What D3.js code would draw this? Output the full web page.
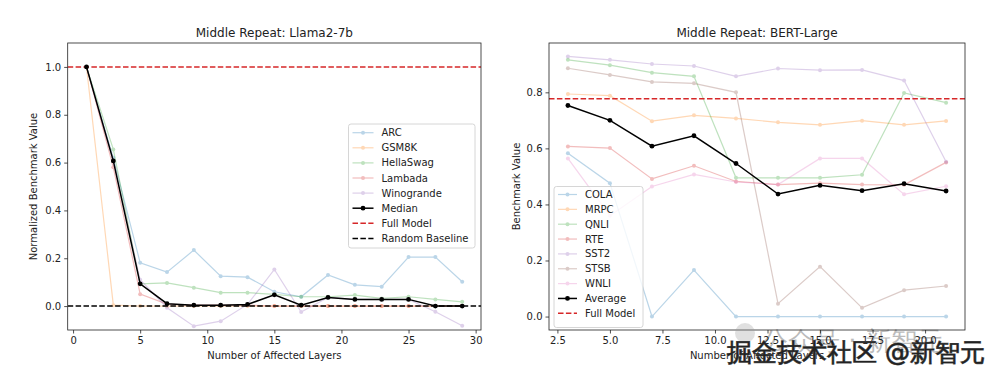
<!DOCTYPE html>
<html>
<head>
<meta charset="utf-8">
<script src="https://cdn.jsdelivr.net/npm/d3@7"></script>
<style>
  body { margin: 0; background: #fff; }
  svg text { font-family: "DejaVu Sans", sans-serif; fill: #222; }
</style>
</head>
<body>
<div id="root"></div>
<script>
// left panel: Llama2-7b
const layersL = [1, 3, 5, 7, 9, 11, 13, 15, 17, 19, 21, 23, 25, 27, 29];
const arc = [1.0, 0.62, 0.181, 0.142, 0.234, 0.125, 0.121, 0.06, 0.039, 0.13, 0.089, 0.081, 0.205, 0.205, 0.102];
const gsm8k = [1.0, 0.004, 0, 0, 0, 0, 0, 0, 0, 0, 0, 0, 0, 0, 0];
const hellaswag = [1.0, 0.655, 0.093, 0.097, 0.077, 0.056, 0.056, 0.049, 0.039, 0.039, 0.046, 0.032, 0.039, 0.028, 0.018];
const lambada = [1.0, 0.58, 0.05, 0.008, 0.004, 0.004, 0.004, 0.0, 0.0, 0.0, 0.0, 0.0, 0.0, 0.0, 0.0];
const winogrande = [1.0, 0.607, 0.11, -0.007, -0.084, -0.063, 0.007, 0.153, -0.025, 0.036, 0.028, 0.028, 0.028, -0.024, -0.082];
const median = [1.0, 0.607, 0.093, 0.01, 0.004, 0.004, 0.007, 0.047, 0.004, 0.036, 0.028, 0.028, 0.028, 0.0, 0.0];
const fullModelL = 1.0;
const randomBaseline = 0.0;
const xTicksL = [0, 5, 10, 15, 20, 25, 30];
const yTicksL = [0.0, 0.2, 0.4, 0.6, 0.8, 1.0];

// right panel: BERT-Large
const layersR = [3, 5, 7, 9, 11, 13, 15, 17, 19, 21];
const cola = [0.583, 0.476, 0.0, 0.166, 0.0, 0.0, 0.0, 0.0, 0.0, 0.0];
const mrpc = [0.794, 0.788, 0.697, 0.718, 0.707, 0.693, 0.684, 0.699, 0.684, 0.698];
const qnli = [0.916, 0.897, 0.870, 0.857, 0.495, 0.495, 0.495, 0.506, 0.798, 0.763];
const rte = [0.607, 0.601, 0.491, 0.538, 0.482, 0.471, 0.476, 0.471, 0.470, 0.550];
const sst2 = [0.928, 0.916, 0.901, 0.894, 0.857, 0.885, 0.879, 0.880, 0.842, 0.552];
const stsb = [0.886, 0.862, 0.837, 0.832, 0.800, 0.046, 0.178, 0.031, 0.094, 0.109];
const wnli = [0.564, 0.36, 0.464, 0.507, 0.480, 0.471, 0.564, 0.564, 0.436, 0.465];
const average = [0.753, 0.700, 0.608, 0.645, 0.546, 0.437, 0.468, 0.449, 0.474, 0.448];
const fullModelR = 0.777;
const xTicksR = [2.5, 5.0, 7.5, 10.0, 12.5, 15.0, 17.5, 20.0];
const yTicksR = [0.0, 0.2, 0.4, 0.6, 0.8];

const tab = ["#1f77b4", "#ff7f0e", "#2ca02c", "#d62728", "#9467bd", "#8c564b", "#e377c2"];
const redLine = "#d62728";

const svg = d3.select("#root").append("svg")
  .attr("width", 1003).attr("height", 377);

function panel(opts) {
  const x = d3.scaleLinear().domain(opts.xDomain).range([opts.left, opts.right]);
  const y = d3.scaleLinear().domain(opts.yDomain).range([opts.bottom, opts.top]);
  const g = svg.append("g");

  const clipId = "clip" + opts.id;
  g.append("clipPath").attr("id", clipId).append("rect")
    .attr("x", opts.left).attr("y", opts.top)
    .attr("width", opts.right - opts.left).attr("height", opts.bottom - opts.top);
  const plot = g.append("g").attr("clip-path", `url(#${clipId})`);

  const line = d3.line().x(d => x(d[0])).y(d => y(d[1]));

  // light series first
  opts.series.forEach(s => {
    const pts = opts.xs.map((v, i) => [v, s.values[i]]);
    const sg = plot.append("g").attr("opacity", 0.3);
    sg.append("path").datum(pts).attr("d", line)
      .attr("fill", "none").attr("stroke", s.color).attr("stroke-width", 1.2);
    sg.selectAll("circle").data(pts).enter().append("circle")
      .attr("cx", d => x(d[0])).attr("cy", d => y(d[1])).attr("r", 2)
      .attr("fill", s.color);
  });

  // horizontal reference lines
  opts.hlines.forEach(h => {
    plot.append("line")
      .attr("x1", opts.left).attr("x2", opts.right)
      .attr("y1", y(h.value)).attr("y2", y(h.value))
      .attr("stroke", h.color).attr("stroke-width", 1.5)
      .attr("stroke-dasharray", "5.5,2.4");
  });

  // aggregate line
  const aggPts = opts.xs.map((v, i) => [v, opts.agg.values[i]]);
  plot.append("path").datum(aggPts).attr("d", line)
    .attr("fill", "none").attr("stroke", "#000").attr("stroke-width", 1.5);
  plot.selectAll("circle.agg").data(aggPts).enter().append("circle")
    .attr("class", "agg")
    .attr("cx", d => x(d[0])).attr("cy", d => y(d[1])).attr("r", 2.4)
    .attr("fill", "#000");

  // axes
  const xAxis = d3.axisBottom(x).tickValues(opts.xTicks).tickFormat(opts.xFmt).tickSize(3.5).tickPadding(3);
  const yAxis = d3.axisLeft(y).tickValues(opts.yTicks).tickFormat(d3.format(".1f")).tickSize(3.5).tickPadding(3);
  const gx = g.append("g").attr("transform", `translate(0,${opts.bottom})`).call(xAxis);
  const gy = g.append("g").attr("transform", `translate(${opts.left},0)`).call(yAxis);
  [gx, gy].forEach(a => {
    a.select(".domain").remove();
    a.selectAll("text").attr("font-size", 10).attr("fill", "#222")
      .attr("font-family", "DejaVu Sans");
    a.selectAll("line").attr("stroke", "#222").attr("stroke-width", 0.8);
  });

  g.append("rect")
    .attr("x", opts.left).attr("y", opts.top)
    .attr("width", opts.right - opts.left).attr("height", opts.bottom - opts.top)
    .attr("fill", "none").attr("stroke", "#222").attr("stroke-width", 0.8);

  g.append("text").attr("x", (opts.left + opts.right) / 2).attr("y", 37)
    .attr("text-anchor", "middle").attr("font-size", 12).text(opts.title);
  g.append("text").attr("x", (opts.left + opts.right) / 2).attr("y", 359)
    .attr("text-anchor", "middle").attr("font-size", 10).text(opts.xLabel);
  g.append("text")
    .attr("transform", `translate(${opts.yLabelX},${(opts.top + opts.bottom) / 2}) rotate(-90)`)
    .attr("text-anchor", "middle").attr("font-size", 10).text(opts.yLabel);

  // legend
  const items = opts.series.map(s => ({ label: s.name, color: s.color, type: "light" }))
    .concat([{ label: opts.agg.name, color: "#000", type: "agg" }])
    .concat(opts.hlines.map(h => ({ label: h.name, color: h.color, type: "dash" })));
  const lg = g.append("g");
  lg.append("rect")
    .attr("x", opts.legend.x).attr("y", opts.legend.y)
    .attr("width", opts.legend.w).attr("height", opts.legend.h)
    .attr("rx", 2.5).attr("fill", "#fff").attr("fill-opacity", 0.8)
    .attr("stroke", "#ccc").attr("stroke-width", 0.8);
  items.forEach((it, i) => {
    const cy = opts.legend.y + opts.legend.first + i * opts.legend.step;
    const x0 = opts.legend.x + 4, x1 = x0 + opts.legend.handle;
    const row = lg.append("g");
    if (it.type === "light") {
      const r = row.append("g").attr("opacity", 0.3);
      r.append("line").attr("x1", x0).attr("x2", x1).attr("y1", cy).attr("y2", cy)
        .attr("stroke", it.color).attr("stroke-width", 1.2);
      r.append("circle").attr("cx", (x0 + x1) / 2).attr("cy", cy).attr("r", 2).attr("fill", it.color);
    } else if (it.type === "agg") {
      row.append("line").attr("x1", x0).attr("x2", x1).attr("y1", cy).attr("y2", cy)
        .attr("stroke", "#000").attr("stroke-width", 1.5);
      row.append("circle").attr("cx", (x0 + x1) / 2).attr("cy", cy).attr("r", 2.4).attr("fill", "#000");
    } else {
      row.append("line").attr("x1", x0).attr("x2", x1).attr("y1", cy).attr("y2", cy)
        .attr("stroke", it.color).attr("stroke-width", 1.5).attr("stroke-dasharray", "5.5,2.4");
    }
    row.append("text").attr("x", x1 + 8).attr("y", cy).attr("dy", "0.35em")
      .attr("font-size", 10).text(it.label);
  });
}

panel({
  id: "L", left: 67.7, right: 481, top: 43, bottom: 330,
  xDomain: [-0.4, 30.4], yDomain: [-0.1, 1.1],
  xs: layersL,
  series: [
    { name: "ARC", values: arc, color: tab[0] },
    { name: "GSM8K", values: gsm8k, color: tab[1] },
    { name: "HellaSwag", values: hellaswag, color: tab[2] },
    { name: "Lambada", values: lambada, color: tab[3] },
    { name: "Winogrande", values: winogrande, color: tab[4] }
  ],
  agg: { name: "Median", values: median },
  hlines: [
    { name: "Full Model", value: fullModelL, color: redLine },
    { name: "Random Baseline", value: randomBaseline, color: "#000" }
  ],
  xTicks: xTicksL, xFmt: d3.format("d"), yTicks: yTicksL,
  title: "Middle Repeat: Llama2-7b",
  xLabel: "Number of Affected Layers",
  yLabel: "Normalized Benchmark Value", yLabelX: 37,
  legend: { x: 348.5, y: 124, w: 126.5, h: 124, first: 8.7, step: 15.1, handle: 21 }
});

panel({
  id: "R", left: 549, right: 965, top: 43, bottom: 330,
  xDomain: [2.1, 21.9], yDomain: [-0.048, 0.976],
  xs: layersR,
  series: [
    { name: "COLA", values: cola, color: tab[0] },
    { name: "MRPC", values: mrpc, color: tab[1] },
    { name: "QNLI", values: qnli, color: tab[2] },
    { name: "RTE", values: rte, color: tab[3] },
    { name: "SST2", values: sst2, color: tab[4] },
    { name: "STSB", values: stsb, color: tab[5] },
    { name: "WNLI", values: wnli, color: tab[6] }
  ],
  agg: { name: "Average", values: average },
  hlines: [
    { name: "Full Model", value: fullModelR, color: redLine }
  ],
  xTicks: xTicksR, xFmt: d3.format(".1f"), yTicks: yTicksR,
  title: "Middle Repeat: BERT-Large",
  xLabel: "Number of Affected Layers",
  yLabel: "Benchmark Value", yLabelX: 520,
  legend: { x: 554, y: 186.5, w: 89, h: 141, first: 8, step: 14.85, handle: 19 }
});

// watermark overlay
svg.append("circle").attr("cx", 745).attr("cy", 333).attr("r", 10)
  .attr("fill", "#999").attr("opacity", 0.3);
svg.append("text").attr("x", 762).attr("y", 350).attr("font-size", 26)
  .attr("font-family", "Noto Sans CJK SC").attr("fill", "#999").attr("opacity", 0.3)
  .text("公众号 · 新智元");
svg.append("text").attr("x", 727).attr("y", 361).attr("font-size", 25)
  .attr("font-family", "Noto Sans CJK SC").attr("fill", "#fff")
  .attr("stroke", "#555").attr("stroke-width", 0.9).attr("paint-order", "stroke")
  .text("掘金技术社区 @新智元");
</script>
</body>
</html>
